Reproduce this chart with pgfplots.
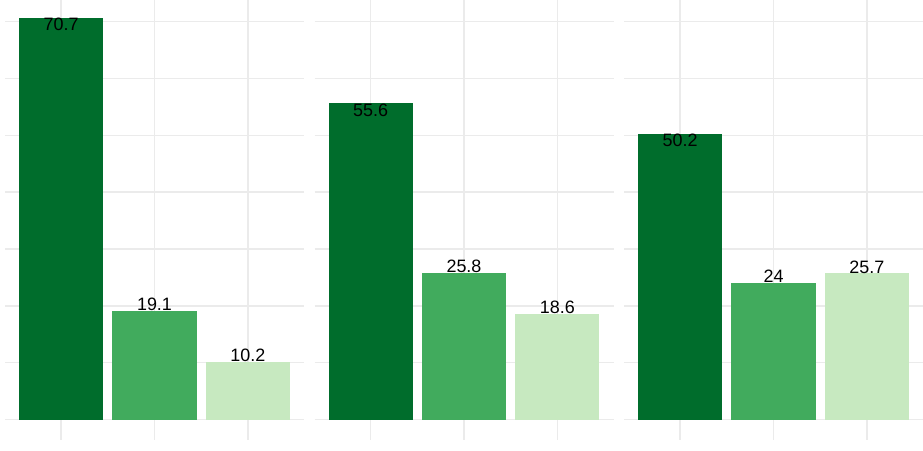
\documentclass[border=0pt]{standalone}
\usepackage{pgfplots}
\pgfplotsset{compat=1.18}
\usepackage{fontspec}
\setmainfont{Liberation Sans}
\definecolor{gA}{HTML}{006D2C}
\definecolor{gB}{HTML}{41AB5D}
\definecolor{gC}{HTML}{C7E9C0}
\definecolor{gridc}{HTML}{EBEBEB}
\pgfplotsset{
  facet/.style={
    width=299bp, height=440bp, scale only axis,
    anchor=south west,
    xmin=0.4, xmax=3.6, ymin=-3.6, ymax=73.78,
    xtick={1,2,3}, xticklabels={},
    ytick={0,20,40,60}, minor ytick={10,30,50,70}, yticklabels={},
    xmajorgrids, ymajorgrids, yminorgrids,
    major grid style={draw=gridc, line width=1.5bp},
    minor grid style={draw=gridc, line width=1.2bp},
    axis line style={draw=none},
    major tick length=0pt, minor tick length=0pt,
    tick style={draw=none},
    ybar, bar width=0.9, /pgf/bar shift=0pt,
    point meta=explicit symbolic,
    nodes near coords,
    every node near coord/.append style={font=\fontsize{18}{20}\selectfont, inner sep=0pt, text=black},
    clip=false,
  },
  top/.style={every node near coord/.append style={anchor=north}},
  bot/.style={every node near coord/.append style={anchor=south}},
}
\begin{document}
\begin{tikzpicture}
\useasboundingbox (0,0) rectangle (923bp,451bp);
% Panel 1
\begin{axis}[facet, at={(5bp,11bp)}]
\addplot[fill=gA, draw=none, top] coordinates {(1,70.7) [70.7]};
\addplot[fill=gB, draw=none, bot] coordinates {(2,19.1) [19.1]};
\addplot[fill=gC, draw=none, bot] coordinates {(3,10.2) [10.2]};
\end{axis}
% Panel 2
\begin{axis}[facet, at={(314.5bp,11bp)}]
\addplot[fill=gA, draw=none, top] coordinates {(1,55.6) [55.6]};
\addplot[fill=gB, draw=none, bot] coordinates {(2,25.8) [25.8]};
\addplot[fill=gC, draw=none, bot] coordinates {(3,18.6) [18.6]};
\end{axis}
% Panel 3
\begin{axis}[facet, at={(624bp,11bp)}]
\addplot[fill=gA, draw=none, top] coordinates {(1,50.2) [50.2]};
\addplot[fill=gB, draw=none, bot] coordinates {(2,24) [24]};
\addplot[fill=gC, draw=none, bot] coordinates {(3,25.7) [25.7]};
\end{axis}
\end{tikzpicture}
\end{document}
